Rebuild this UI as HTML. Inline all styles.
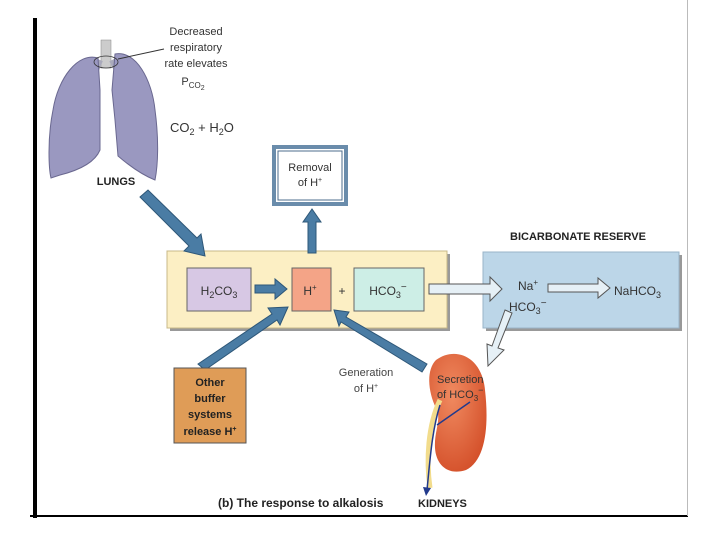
<!DOCTYPE html>
<html><head><meta charset="utf-8"><style>
body{margin:0;background:#fff;}
svg{display:block;font-family:"Liberation Sans",sans-serif;}
</style></head><body>
<svg width="720" height="540" viewBox="0 0 720 540" xmlns="http://www.w3.org/2000/svg">
<defs>
<radialGradient id="kid" cx="0.4" cy="0.35" r="0.7"><stop offset="0" stop-color="#f08a60"/><stop offset="1" stop-color="#d4502a"/></radialGradient>
</defs>
<rect x="33" y="18" width="4" height="500" fill="#000"/>
<rect x="30" y="515" width="658" height="2" fill="#000"/>
<rect x="687" y="0" width="1" height="516" fill="#bbb"/>

<!-- lungs -->
<rect x="101" y="40" width="10" height="28" fill="#ccc" stroke="#888" stroke-width="0.5"/>
<path d="M100 60 L88 90 M112 60 L122 80" stroke="#aab" stroke-width="6" fill="none"/>
<path d="M98 58 C78 52 58 78 53 110 C47 140 49 170 51 178 L60 175 C80 170 95 162 100 150 L100 90 Z" fill="#9a98c0" stroke="#6a6890" stroke-width="1"/>
<path d="M115 54 C136 50 152 80 155 110 C159 140 158 165 155 180 C140 174 125 162 118 156 L115 120 L112 90 Z" fill="#9a98c0" stroke="#6a6890" stroke-width="1"/>
<ellipse cx="106" cy="62" rx="12" ry="6" fill="none" stroke="#333" stroke-width="0.8"/>
<line x1="118" y1="59" x2="164" y2="49" stroke="#333" stroke-width="1"/>
<text x="116" y="185" font-size="11" font-weight="bold" text-anchor="middle" fill="#222">LUNGS</text>
<g font-size="11" fill="#333" text-anchor="middle">
<text x="196" y="35">Decreased</text>
<text x="196" y="51">respiratory</text>
<text x="196" y="67">rate elevates</text>
<text x="193" y="85">P<tspan font-size="8" dy="3">CO</tspan><tspan font-size="7" dy="2">2</tspan></text>
</g>
<text x="170" y="132" font-size="13" fill="#333">CO<tspan font-size="9" dy="3">2</tspan><tspan dy="-3"> + H</tspan><tspan font-size="9" dy="3">2</tspan><tspan dy="-3">O</tspan></text>

<rect x="274" y="147" width="72" height="57" fill="#fff" stroke="#6a8cab" stroke-width="4"/>
<rect x="278" y="151" width="64" height="49" fill="none" stroke="#4c6c8c" stroke-width="1"/>
<text x="310" y="171" font-size="11" text-anchor="middle" fill="#333">Removal</text>
<text x="310" y="186" font-size="11" text-anchor="middle" fill="#333">of H<tspan font-size="7" dy="-4">+</tspan></text>

<rect x="170" y="254" width="280" height="77" fill="#999"/>
<rect x="167" y="251" width="280" height="77" fill="#fcefc4" stroke="#c8b888" stroke-width="1"/>
<rect x="187" y="268" width="64" height="43" fill="#d7c8e4" stroke="#666" stroke-width="1"/>
<text x="219" y="295" font-size="12" text-anchor="middle" fill="#333">H<tspan font-size="9" dy="3">2</tspan><tspan dy="-3">CO</tspan><tspan font-size="9" dy="3">3</tspan></text>
<rect x="292" y="268" width="39" height="43" fill="#f4a487" stroke="#666" stroke-width="1"/>
<text x="310" y="295" font-size="12" text-anchor="middle" fill="#333">H<tspan font-size="8" dy="-5">+</tspan></text>
<text x="342" y="295" font-size="12" text-anchor="middle" fill="#333">+</text>
<rect x="354" y="268" width="70" height="43" fill="#cdeee6" stroke="#666" stroke-width="1"/>
<text x="388" y="295" font-size="12" text-anchor="middle" fill="#333">HCO<tspan font-size="9" dy="3">3</tspan><tspan font-size="10" dy="-8">−</tspan></text>

<rect x="486" y="255" width="196" height="76" fill="#999"/>
<rect x="483" y="252" width="196" height="76" fill="#bcd6e8" stroke="#9ab4c8" stroke-width="1"/>
<text x="578" y="240" font-size="11" font-weight="bold" text-anchor="middle" fill="#222">BICARBONATE RESERVE</text>
<text x="518" y="290" font-size="12" fill="#333">Na<tspan font-size="8" dy="-5">+</tspan></text>
<text x="509" y="311" font-size="12" fill="#333">HCO<tspan font-size="9" dy="3">3</tspan><tspan font-size="10" dy="-8">−</tspan></text>
<text x="614" y="295" font-size="12" fill="#333">NaHCO<tspan font-size="9" dy="3">3</tspan></text>

<g fill="#4a7ca4" stroke="#2e5778" stroke-width="1">
<polygon points="140,197 148,190 197,238 201,234 205,256 184,251 189,246"/>
<polygon points="255,285 275,285 275,279 287,289 275,299 275,293 255,293"/>
<polygon points="308,253 308,222 303,222 312,209 321,222 316,222 316,253"/>
<polygon points="205,370 198,364 272,314 268,308 288,307 280,325 277,320"/>
<polygon points="422,372 427,364 346,317 349,312 334,310 339,326 341,322"/>
</g>
<g fill="#e6f0f6" stroke="#555" stroke-width="1">
<polygon points="429,284 490,284 490,277 502,289 490,301 490,294 429,294"/>
<polygon points="548,284 598,284 598,278 610,288 598,298 598,292 548,292"/>
<polygon points="505,310 512,313 498,348 504,350 488,366 487,344 492,346"/>
</g>

<rect x="174" y="368" width="72" height="75" fill="#df9c57" stroke="#555" stroke-width="1"/>
<g font-size="11" font-weight="bold" text-anchor="middle" fill="#222">
<text x="210" y="386">Other</text>
<text x="210" y="402">buffer</text>
<text x="210" y="418">systems</text>
<text x="210" y="435">release H<tspan font-size="7" dy="-4">+</tspan></text>
</g>
<text x="366" y="376" font-size="11" text-anchor="middle" fill="#444">Generation</text>
<text x="366" y="392" font-size="11" text-anchor="middle" fill="#444">of H<tspan font-size="7" dy="-4">+</tspan></text>

<path d="M436 360 C455 346 482 356 485 390 C489 425 486 460 466 470 C448 476 436 465 435 448 C434 430 442 420 436 408 C428 392 426 370 436 360 Z" fill="url(#kid)"/>
<path d="M440 400 C428 425 426 460 430 488" stroke="#f2dc8c" stroke-width="5" fill="none"/>
<path d="M440 405 C432 430 430 460 427 490 M437 425 L470 402" stroke="#223a8c" stroke-width="1.5" fill="none"/>
<polygon points="423,487 431,488 426,496" fill="#223a8c"/>
<text x="437" y="383" font-size="11" fill="#333">Secretion</text>
<text x="437" y="398" font-size="11" fill="#333">of HCO<tspan font-size="8" dy="3">3</tspan><tspan font-size="9" dy="-8">−</tspan></text>

<text x="218" y="507" font-size="12" font-weight="bold" fill="#222">(b) The response to alkalosis</text>
<text x="418" y="507" font-size="11" font-weight="bold" fill="#222">KIDNEYS</text>
</svg>
</body></html>
